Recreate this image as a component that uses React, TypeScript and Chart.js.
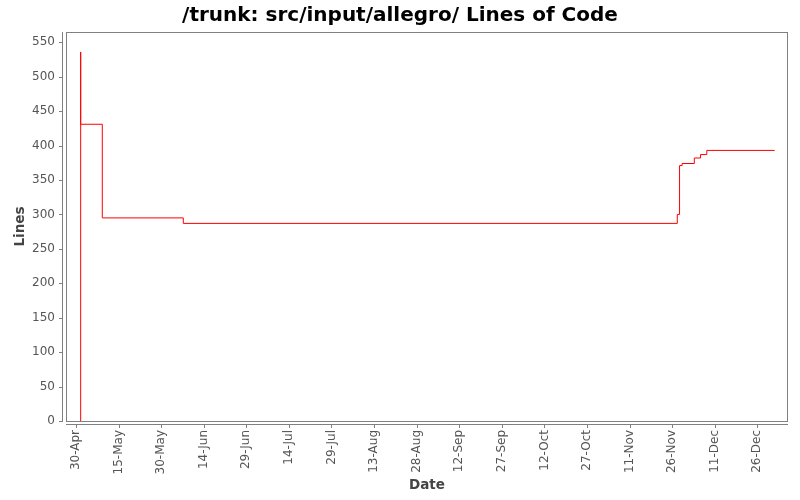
import React, { useEffect, useRef } from "react";
import { Chart, registerables } from "chart.js";

Chart.register(...registerables);

// days after 30-Apr (step change points) and Lines of Code values
const days: number[] = [1.65, 1.65, 1.65, 9.26, 37.8, 211.8, 212.6, 213.5, 217.8, 220.0, 222.2, 246.1];
const lines: number[] = [0, 536, 431, 295, 287, 300, 371, 374, 382, 387, 393, 393];
const xTickDays: number[] = [0, 15, 30, 45, 60, 75, 90, 105, 120, 135, 150, 165, 180, 195, 210, 225, 240];
const yTickValues: number[] = [0, 50, 100, 150, 200, 250, 300, 350, 400, 450, 500, 550];
const monthNames: string[] = ["Jan", "Feb", "Mar", "Apr", "May", "Jun", "Jul", "Aug", "Sep", "Oct", "Nov", "Dec"];
const chartTitle = "/trunk: src/input/allegro/ Lines of Code";
const xTitle = "Date";
const yTitle = "Lines";

const BASE = Date.UTC(2007, 3, 30);
function dayLabel(d: number): string {
  const dt = new Date(BASE + Math.round(d) * 86400000);
  return dt.getUTCDate() + "-" + monthNames[dt.getUTCMonth()];
}

const FONT = "'DejaVu Sans', sans-serif";

const decor = {
  id: "decor",
  afterDraw(chart: any) {
    const { ctx, chartArea } = chart;
    const { left, right, top, bottom } = chartArea;
    const xs = chart.scales.x;
    const ys = chart.scales.y;
    ctx.save();
    ctx.strokeStyle = "#808080";
    ctx.lineWidth = 1;
    // plot frame
    ctx.strokeRect(left + 0.5, top + 0.5, right - left - 1, bottom - top);
    // y axis line and ticks
    ctx.beginPath();
    ctx.moveTo(62.5, top);
    ctx.lineTo(62.5, bottom + 1);
    for (const v of yTickValues) {
      const py = Math.round(ys.getPixelForValue(v)) + 0.5;
      ctx.moveTo(59, py);
      ctx.lineTo(62.5, py);
    }
    // x axis line and ticks
    ctx.moveTo(left, 424.5);
    ctx.lineTo(right, 424.5);
    for (const v of xTickDays) {
      const px = Math.round(xs.getPixelForValue(v)) + 0.5;
      ctx.moveTo(px, 424.5);
      ctx.lineTo(px, 428);
    }
    ctx.stroke();

    // title
    ctx.fillStyle = "#000";
    ctx.font = "bold 20px " + FONT;
    ctx.textAlign = "center";
    ctx.textBaseline = "alphabetic";
    ctx.fillText(chartTitle, 400, 21);

    // axis titles
    ctx.fillStyle = "#444";
    ctx.font = "bold 13.5px " + FONT;
    ctx.fillText(xTitle, (left + right) / 2, 489);
    ctx.save();
    ctx.translate(24, (top + bottom) / 2);
    ctx.rotate(-Math.PI / 2);
    ctx.fillText(yTitle, 0, 0);
    ctx.restore();
    ctx.restore();
  },
};

export default function App() {
  const ref = useRef<HTMLCanvasElement | null>(null);
  useEffect(() => {
    if (!ref.current) return;
    const chart = new Chart(ref.current, {
      type: "line",
      data: {
        datasets: [
          {
            data: days.map((d, i) => ({ x: d, y: lines[i] })),
            borderColor: "#ff0000",
            borderWidth: 1,
            pointRadius: 0,
            stepped: "before",
            fill: false,
          },
        ],
      },
      options: {
        animation: false,
        responsive: false,
        devicePixelRatio: 1,
        layout: { padding: { top: 32, right: 12, left: 0, bottom: 0 } },
        plugins: { legend: { display: false }, title: { display: false }, tooltip: { enabled: false } },
        scales: {
          x: {
            type: "linear",
            min: -3.52,
            max: 250.8,
            grid: { display: false, drawTicks: false },
            border: { display: false },
            afterBuildTicks: (s: any) => {
              s.ticks = xTickDays.map((v) => ({ value: v }));
            },
            afterFit: (s: any) => {
              s.height = 79;
            },
            ticks: {
              autoSkip: false,
              maxRotation: 90,
              minRotation: 90,
              padding: 9,
              color: "#555",
              font: { family: FONT, size: 12 },
              callback: (v: any) => dayLabel(Number(v)),
            },
          },
          y: {
            type: "linear",
            min: 0,
            max: 565,
            grid: { display: false, drawTicks: false },
            border: { display: false },
            afterBuildTicks: (s: any) => {
              s.ticks = yTickValues.map((v) => ({ value: v }));
            },
            afterFit: (s: any) => {
              s.width = 66;
            },
            ticks: {
              padding: 11,
              color: "#555",
              font: { family: FONT, size: 12 },
              callback: (v: any) => String(v),
            },
          },
        },
      },
      plugins: [decor],
    });
    return () => chart.destroy();
  }, []);
  return (
    <div style={{ position: "fixed", left: 0, top: 0, width: 800, height: 500, background: "#fff" }}>
      <canvas ref={ref} width={800} height={500} style={{ display: "block" }} />
    </div>
  );
}
